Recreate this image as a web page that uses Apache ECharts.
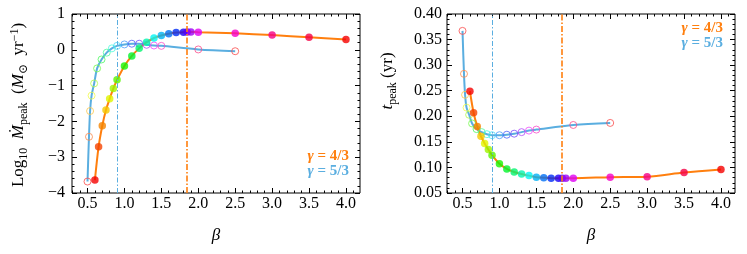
<!DOCTYPE html>
<html><head><meta charset="utf-8">
<script src="https://cdn.jsdelivr.net/npm/echarts@6/dist/echarts.min.js"></script>
<style>html,body{margin:0;padding:0;background:#fff}#c{width:747px;height:254px}</style>
</head><body><div id="c"></div>
<script>
// ---- data ----
const beta43  = [0.6,0.65,0.7,0.75,0.8,0.85,0.9,1.0,1.1,1.2,1.3,1.4,1.5,1.6,1.7,1.8,1.85,1.9,2.0,2.5,3.0,3.5,4.0];
const mdot43  = [-3.64,-2.71,-2.12,-1.68,-1.37,-1.08,-0.84,-0.45,-0.17,0.04,0.21,0.33,0.40,0.45,0.48,0.49,0.50,0.50,0.49,0.46,0.41,0.35,0.29];
const tpeak43 = [0.249,0.207,0.180,0.161,0.147,0.135,0.124,0.107,0.097,0.091,0.087,0.084,0.081,0.080,0.079,0.079,0.079,0.079,0.079,0.081,0.082,0.090,0.096];
const beta53  = [0.5,0.52,0.535,0.555,0.59,0.63,0.69,0.76,0.83,0.9,1.0,1.1,1.2,1.3,1.4,1.5,2.0,2.5];
const mdot53  = [-3.68,-2.43,-1.71,-1.28,-0.94,-0.52,-0.27,-0.08,0.04,0.11,0.15,0.17,0.17,0.14,0.12,0.11,0.01,-0.04];
const tpeak53 = [0.367,0.283,0.242,0.217,0.203,0.186,0.175,0.169,0.165,0.163,0.163,0.164,0.166,0.169,0.172,0.174,0.183,0.187];
const betaCrit43 = 1.85, betaCrit53 = 0.9;
const legendLabels = ['γ = 4/3', 'γ = 5/3'];
// ---- ticks ----
const xTicks  = [0.5,1.0,1.5,2.0,2.5,3.0,3.5,4.0];
const xMinor  = [0.3,0.4,0.6,0.7,0.8,0.9,1.1,1.2,1.3,1.4,1.6,1.7,1.8,1.9,2.1,2.2,2.3,2.4,2.6,2.7,2.8,2.9,3.1,3.2,3.3,3.4,3.6,3.7,3.8,3.9,4.1];
const yTicksL = [-4,-3,-2,-1,0,1];
const yMinorL = [-3.8,-3.6,-3.4,-3.2,-2.8,-2.6,-2.4,-2.2,-1.8,-1.6,-1.4,-1.2,-0.8,-0.6,-0.4,-0.2,0.2,0.4,0.6,0.8];
const yTicksR = [0.05,0.10,0.15,0.20,0.25,0.30,0.35,0.40];
const yMinorR = [0.06,0.07,0.08,0.09,0.11,0.12,0.13,0.14,0.16,0.17,0.18,0.19,0.21,0.22,0.23,0.24,0.26,0.27,0.28,0.29,0.31,0.32,0.33,0.34,0.36,0.37,0.38,0.39];

const FONT = '"Liberation Serif","DejaVu Serif",serif';
const ORANGE = '#ff7f0e', BLUE = '#5aaee0';
const XMIN = 0.29, XMAX = 4.19;

function filledColor(i, n){ return 'hsl(' + (360*i/(n-1)).toFixed(1) + ',100%,48%)'; }
function openColor(i, n){ return 'hsl(' + (360*i/(n-1)).toFixed(1) + ',95%,64%)'; }

function ax(g, pos, min, max, ticks, len, labels, fmt, margin, name){
  const a = {
    gridIndex: g, type: 'value', min: min, max: max, position: pos,
    axisLine: {show: false, onZero: false}, splitLine: {show: false},
    axisTick: {show: true, inside: true, length: len, customValues: ticks, lineStyle: {color: '#000', width: 1}},
    axisLabel: labels ? {show: true, customValues: ticks, formatter: fmt, margin: margin,
      fontFamily: FONT, fontSize: 16, color: '#000'} : {show: false}
  };
  if (name) {
    a.name = name; a.nameLocation = 'middle'; a.nameGap = 34;
    a.nameTextStyle = {fontFamily: FONT, fontStyle: 'italic', fontSize: 17, color: '#000'};
  }
  return a;
}
const fx = v => v.toFixed(1);
const fyL = v => String(v).replace('-', '\u2212');
const fyR = v => v.toFixed(2);

const xAxis = [], yAxis = [];
[0,1].forEach(g => {
  xAxis.push(ax(g, 'bottom', XMIN, XMAX, xTicks, 5, true, fx, 3, 'β'));
  xAxis.push(ax(g, 'bottom', XMIN, XMAX, xMinor, 2.5, false));
  xAxis.push(ax(g, 'top', XMIN, XMAX, xTicks, 5, false));
  xAxis.push(ax(g, 'top', XMIN, XMAX, xMinor, 2.5, false));
});
yAxis.push(ax(0, 'left', -4, 1, yTicksL, 5, true, fyL, 7));
yAxis.push(ax(0, 'left', -4, 1, yMinorL, 2.5, false));
yAxis.push(ax(0, 'right', -4, 1, yTicksL, 5, false));
yAxis.push(ax(0, 'right', -4, 1, yMinorL, 2.5, false));
yAxis.push(ax(1, 'left', 0.05, 0.40, yTicksR, 5, true, fyR, 5));
yAxis.push(ax(1, 'left', 0.05, 0.40, yMinorR, 2.5, false));
yAxis.push(ax(1, 'right', 0.05, 0.40, yTicksR, 5, false));
yAxis.push(ax(1, 'right', 0.05, 0.40, yMinorR, 2.5, false));

function pts(xs, ys){ return xs.map((x, i) => [x, ys[i]]); }
function lineSeries(g, xs, ys, color, crit, w, dash){
  return {
    type: 'line', xAxisIndex: g*4, yAxisIndex: g*4, data: pts(xs, ys),
    smooth: 0.3, symbol: 'none', lineStyle: {color: color, width: 2}, z: 2, silent: true,
    markLine: {silent: true, symbol: 'none', label: {show: false},
      lineStyle: {color: color, width: w, type: dash}, data: [{xAxis: crit}]}
  };
}
function openSeries(g, xs, ys){
  return {type: 'scatter', xAxisIndex: g*4, yAxisIndex: g*4, symbol: 'circle', symbolSize: 7, z: 3,
    data: xs.map((x, i) => ({value: [x, ys[i]], itemStyle: {color: 'rgba(255,255,255,0)',
      borderColor: openColor(i, xs.length), borderWidth: 1}}))};
}
function filledSeries(g, xs, ys){
  return {type: 'scatter', xAxisIndex: g*4, yAxisIndex: g*4, symbol: 'circle', symbolSize: 7.5, z: 4,
    data: xs.map((x, i) => ({value: [x, ys[i]], itemStyle: {color: filledColor(i, xs.length)}}))};
}

const series = [
  lineSeries(0, beta53, mdot53, BLUE, betaCrit53, 1, [5,2,1.5,2]),
  openSeries(0, beta53, mdot53),
  lineSeries(0, beta43, mdot43, ORANGE, betaCrit43, 1.6, [6,2,1.5,2]),
  filledSeries(0, beta43, mdot43),
  lineSeries(1, beta53, tpeak53, BLUE, betaCrit53, 1, [5,2,1.5,2]),
  openSeries(1, beta53, tpeak53),
  lineSeries(1, beta43, tpeak43, ORANGE, betaCrit43, 1.6, [6,2,1.5,2]),
  filledSeries(1, beta43, tpeak43)
];

const mainSz = 17, subSz = 12;
const rich = {
  n: {fontFamily: FONT, fontSize: mainSz, lineHeight: 21, verticalAlign: 'middle', fill: '#000'},
  i: {fontFamily: FONT, fontSize: mainSz, fontStyle: 'italic', lineHeight: 21, verticalAlign: 'middle', fill: '#000'},
  s: {fontFamily: FONT, fontSize: subSz, lineHeight: 21, verticalAlign: 'bottom', fill: '#000'},
  p: {fontFamily: FONT, fontSize: subSz, lineHeight: 21, verticalAlign: 'top', fill: '#000'}
};
const legRich = {
  g: {fontFamily: FONT, fontSize: 15, fontWeight: 'bold', fontStyle: 'italic'},
  t: {fontFamily: FONT, fontSize: 15, fontWeight: 'bold'}
};
function legend(x, y, label, color){
  const parts = label.split(' ');
  return {type: 'text', x: x, y: y, style: {text: '{g|' + parts[0] + '}{t| ' + parts.slice(1).join(' ') + '}',
    rich: {g: Object.assign({fill: color}, legRich.g), t: Object.assign({fill: color}, legRich.t)},
    align: 'right', verticalAlign: 'middle'}};
}

const option = {
  animation: false,
  grid: [
    {left: 72, top: 14, width: 288, height: 179, show: true, borderColor: '#000', borderWidth: 1, backgroundColor: 'transparent'},
    {left: 447, top: 14, width: 288, height: 179, show: true, borderColor: '#000', borderWidth: 1, backgroundColor: 'transparent'}
  ],
  xAxis: xAxis, yAxis: yAxis, series: series,
  graphic: [
    {type: 'text', x: 19, y: 105, rotation: Math.PI/2, style: {
      text: '{n|Log}{s|10}{n|  }{i|Ṁ}{s|peak}{n|  (}{i|M}{s|⊙}{n|  yr}{p|−1}{n|)}', rich: rich,
      align: 'center', verticalAlign: 'middle'}},
    {type: 'text', x: 388, y: 81, rotation: Math.PI/2, style: {
      text: '{i|t}{s|peak}{n| (yr)}', rich: rich, align: 'center', verticalAlign: 'middle'}},
    legend(349, 156, legendLabels[0], ORANGE),
    legend(349, 171, legendLabels[1], BLUE),
    legend(723, 28, legendLabels[0], ORANGE),
    legend(723, 43, legendLabels[1], BLUE)
  ]
};
const chart = echarts.init(document.getElementById('c'), null, {renderer: 'canvas'});
chart.setOption(option);
</script></body></html>
